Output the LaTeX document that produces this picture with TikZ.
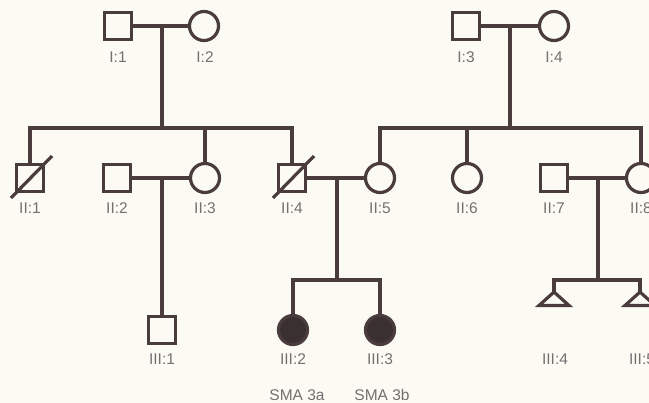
\documentclass[tikz,border=0pt]{standalone}
\usepackage{fontspec}
\setmainfont{Liberation Sans}
\usetikzlibrary{calc}
\definecolor{ln}{HTML}{4A3B3D}
\definecolor{fl}{HTML}{3A3031}
\definecolor{tx}{HTML}{727070}
\definecolor{bg}{HTML}{FBFBF4}
\tikzset{
  ped/.style={draw=ln, line width=3.2pt, inner sep=0pt, outer sep=0pt},
  male/.style={ped, rectangle, minimum size=27pt},
  female/.style={ped, circle, minimum size=29pt},
  affected/.style={fill=fl},
  conn/.style={draw=ln, line width=3.2pt},
  lab/.style={text=tx, font=\fontsize{15.5}{15.5}\selectfont, inner sep=0pt}
}
\begin{document}
\begin{tikzpicture}[x=1pt,y=-1pt]
\fill[bg] (0,0) rectangle (649,403);
\useasboundingbox (0,0) rectangle (649,403);
\clip (0,0) rectangle (649,403);
% Generation I
\node[male]   (I1) at (118,26) {};
\node[female] (I2) at (204,26) {};
\node[male]   (I3) at (466,26) {};
\node[female] (I4) at (554,26) {};
% Generation II
\node[male]   (II1) at (30,178) {};
\node[male]   (II2) at (117,178) {};
\node[female] (II3) at (205,178) {};
\node[male]   (II4) at (292,178) {};
\node[female] (II5) at (380,178) {};
\node[female] (II6) at (467,178) {};
\node[male]   (II7) at (554,178) {};
\node[female] (II8) at (641,178) {};
% Generation III
\node[male]   (III1) at (162,330) {};
\node[female,affected] (III2) at (293,330) {};
\node[female,affected] (III3) at (380,330) {};
\coordinate (t4) at (554,292);
\coordinate (t5) at (640,292);
\draw[conn, line join=miter] (t4) -- ++(-15,13.5) -- ++(30,0) -- cycle;
\draw[conn, line join=miter] (t5) -- ++(-15,13.5) -- ++(30,0) -- cycle;
% deceased slashes
\draw[conn] ($(II1.center)+(-19,20)$) -- ($(II1.center)+(22,-22)$);
\draw[conn] ($(II4.center)+(-19,20)$) -- ($(II4.center)+(22,-22)$);
% connectors
\coordinate (m1) at (162,26); \coordinate (s1) at (162,128);
\coordinate (m2) at (510,26); \coordinate (s2) at (510,128);
\coordinate (m3) at (162,178);
\coordinate (m4) at (337,178); \coordinate (s4) at (337,280);
\coordinate (m5) at (598,178); \coordinate (s5) at (598,280);
\draw[conn] (I1) -- (I2);
\draw[conn] (I3) -- (I4);
\draw[conn] (m1) -- (s1);
\draw[conn] (m2) -- (s2);
\draw[conn] (II1.north) |- (s1) -| (II4.north);
\draw[conn] (II3.north) -- (II3.north |- s1);
\draw[conn] (II5.north) |- (s2) -| (II8.north);
\draw[conn] (II6.north) -- (II6.north |- s2);
\draw[conn] (II2) -- (II3);
\draw[conn] (II4) -- (II5);
\draw[conn] (II7) -- (II8);
\draw[conn] (m3) -- (III1.north);
\draw[conn] (m4) -- (s4);
\draw[conn] (m5) -- (s5);
\draw[conn] (III2.north) |- (s4) -| (III3.north);
\draw[conn] (t4) |- (s5) -| (t5);
% labels
\node[lab] (lI1) at (118,57) {I:1};
\node[lab] (lI2) at (205,57) {I:2};
\node[lab] (lI3) at (466,57) {I:3};
\node[lab] (lI4) at (554,57) {I:4};
\node[lab] (lII1) at (30,208) {II:1};
\node[lab] (lII2) at (117,208) {II:2};
\node[lab] (lII3) at (205,208) {II:3};
\node[lab] (lII4) at (292,208) {II:4};
\node[lab] (lII5) at (380,208) {II:5};
\node[lab] (lII6) at (467,208) {II:6};
\node[lab] (lII7) at (554,208) {II:7};
\node[lab] (lII8) at (641,208) {II:8};
\node[lab] (lIII1) at (162,359) {III:1};
\node[lab] (lIII2) at (293,359) {III:2};
\node[lab] (lIII3) at (380,359) {III:3};
\node[lab] (lIII4) at (555,359) {III:4};
\node[lab] (lIII5) at (642,359) {III:5};
\node[lab] (sma1) at (297,395) {SMA 3a};
\node[lab] (sma2) at (382,395) {SMA 3b};
\end{tikzpicture}
\end{document}
